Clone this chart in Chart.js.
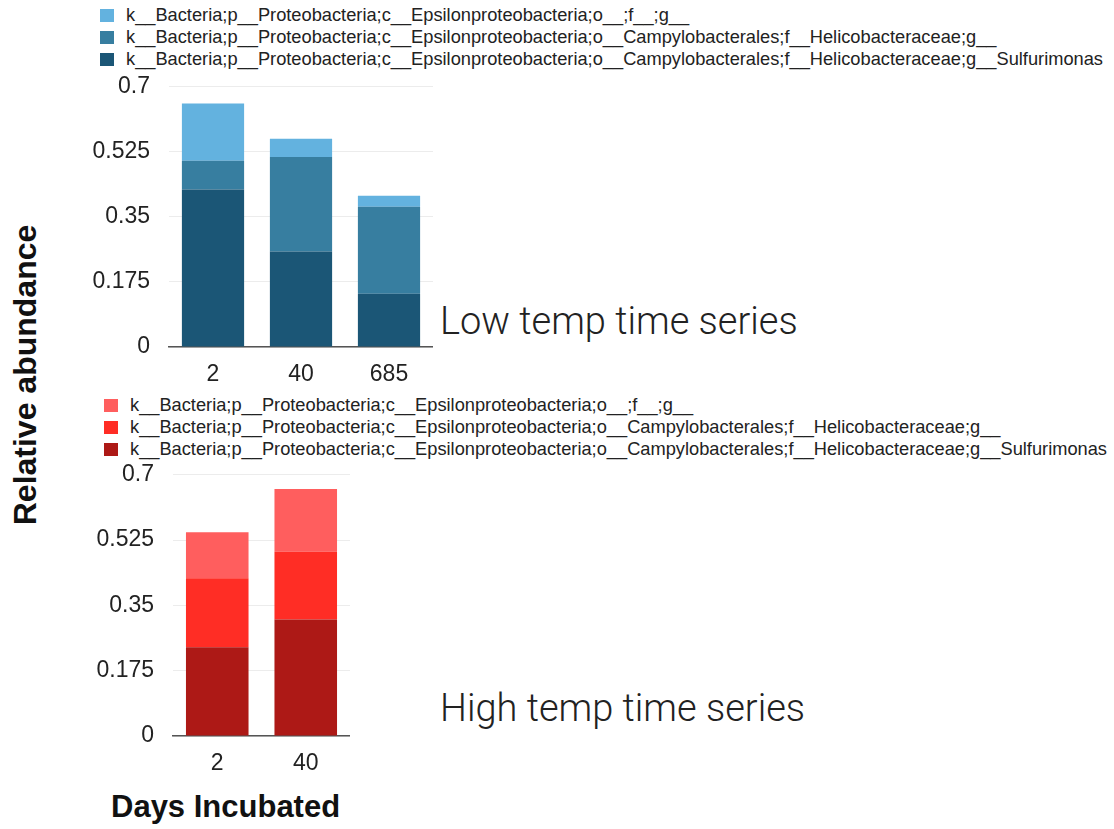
<!DOCTYPE html>
<html>
<head>
<meta charset="UTF-8">
<title>Epsilonproteobacteria relative abundance</title>
<style>
	body { margin: 0; background: #fff; font-family: "Liberation Sans", Arial, sans-serif; color: #222; }
	#page { position: relative; width: 1114px; height: 829px; overflow: hidden; }
	canvas { position: absolute; }
	.legend { position: absolute; font-size: 18.25px; line-height: 22px; white-space: nowrap; }
	.legend div { height: 22px; }
	.legend span.box { display: inline-block; width: 14px; height: 13px; margin-right: 12px; vertical-align: -1px; }
	.note { position: absolute; font-family: Roboto, "Liberation Sans", sans-serif; font-weight: 300; font-size: 38px; line-height: 38px; white-space: nowrap; color: #222; }
	.axisTitle { position: absolute; font-weight: bold; font-size: 31px; line-height: 31px; white-space: nowrap; color: #111; }
</style>
</head>
<body>
<div id="page">
	<div id="lowLegend" class="legend" style="left:100px; top:4px;"></div>
	<canvas id="lowChart" width="353" height="338" style="left:80px; top:54px;"></canvas>
	<div class="note" style="left:440px; top:302px;">Low temp time series</div>

	<div id="highLegend" class="legend" style="left:104px; top:394px;"></div>
	<canvas id="highChart" width="270" height="339" style="left:80px; top:442px;"></canvas>
	<div class="note" style="left:440px; top:689px;">High temp time series</div>

	<div class="axisTitle" style="left:111px; top:791px;">Days Incubated</div>
	<div class="axisTitle" style="left:-125px; top:359px; font-size:32px; line-height:32px; transform:rotate(-90deg);">Relative abundance</div>
</div>
<script src="https://cdn.jsdelivr.net/npm/chart.js@4.4.0/dist/chart.umd.min.js"></script>
<script type="text/javascript">
// taxa, bottom of the stack first
const taxa = [
	'k__Bacteria;p__Proteobacteria;c__Epsilonproteobacteria;o__Campylobacterales;f__Helicobacteraceae;g__Sulfurimonas',
	'k__Bacteria;p__Proteobacteria;c__Epsilonproteobacteria;o__Campylobacterales;f__Helicobacteraceae;g__',
	'k__Bacteria;p__Proteobacteria;c__Epsilonproteobacteria;o__;f__;g__'
];

// low temperature incubation
const lowDays = ['2', '40', '685'];
const lowSulfurimonas = [0.424, 0.257, 0.143];
const lowHelicobacteraceae = [0.077, 0.254, 0.234];
const lowUnassigned = [0.154, 0.049, 0.030];

// high temperature incubation
const highDays = ['2', '40'];
const highSulfurimonas = [0.238, 0.312];
const highHelicobacteraceae = [0.185, 0.182];
const highUnassigned = [0.123, 0.168];

const yTicks = [0, 0.175, 0.35, 0.525, 0.7];

const blues = ['#1b5676', '#377ea0', '#63b2df'];
const reds = ['#ad1916', '#ff2d25', '#ff5e5e'];

function buildLegend(id, colors) {
	let html = '';
	// top entry is the top of the stack
	for (let i = taxa.length - 1; i >= 0; i--) {
		html += '<div><span class="box" style="background:' + colors[i] + '"></span>' + taxa[i] + '</div>';
	}
	document.getElementById(id).innerHTML = html;
}

function stackedChart(id, days, series, colors, yWidth) {
	let ctx = document.getElementById(id).getContext('2d');
	return new Chart(ctx, {
		type: 'bar',
		data: {
			labels: days,
			datasets: series.map(function(values, i) {
				return {
					label: taxa[i],
					data: values,
					backgroundColor: colors[i],
					borderWidth: 0,
					categoryPercentage: 1,
					barPercentage: 0.707
				};
			})
		},
		options: {
			responsive: false,
			animation: false,
			layout: { padding: { top: 15, left: 0, right: 0, bottom: 0 } },
			plugins: { legend: { display: false }, tooltip: { enabled: false } },
			scales: {
				x: {
					stacked: true,
					grid: { display: false, drawTicks: false },
					border: { display: true, color: '#555', width: 1.5 },
					ticks: { color: '#222', padding: 14, font: { family: 'Liberation Sans', size: 23 } },
					afterFit: function(scale) { scale.height = 45; }
				},
				y: {
					stacked: true,
					min: 0,
					max: 0.7,
					grid: { color: '#ececec', drawTicks: false },
					border: { display: false },
					afterBuildTicks: function(scale) {
						scale.ticks = yTicks.map(function(v) { return { value: v }; });
					},
					ticks: {
						color: '#222',
						padding: 19,
						font: { family: 'Liberation Sans', size: 23 },
						callback: function(v) { return String(+v.toFixed(3)); }
					},
					afterFit: function(scale) { scale.width = yWidth; }
				}
			}
		}
	});
}

buildLegend('lowLegend', blues);
buildLegend('highLegend', reds);
stackedChart('lowChart', lowDays, [lowSulfurimonas, lowHelicobacteraceae, lowUnassigned], blues, 89);
stackedChart('highChart', highDays, [highSulfurimonas, highHelicobacteraceae, highUnassigned], reds, 93);
</script>
</body>
</html>
